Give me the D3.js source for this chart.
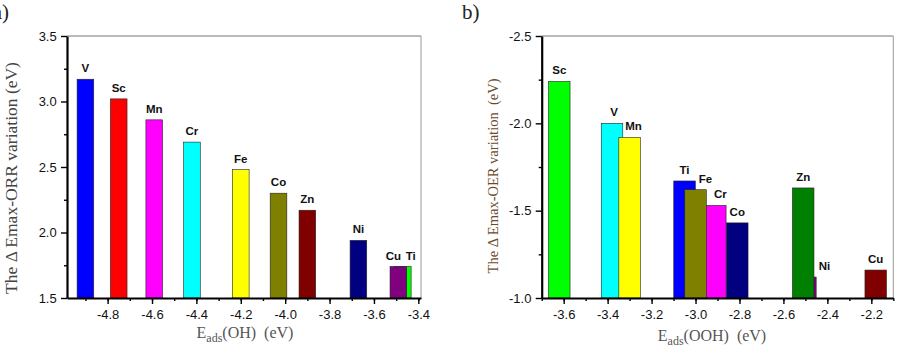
<!DOCTYPE html>
<html>
<head>
<meta charset="utf-8">
<script src="https://cdn.jsdelivr.net/npm/d3@7/dist/d3.min.js"></script>
<style>
  html, body { margin: 0; padding: 0; background: #fff; }
  svg { display: block; }
  text { white-space: pre; }
</style>
</head>
<body>
<svg id="chart" width="904" height="354"></svg>
<script>
// ---------------- DATA ----------------
// Elements in atomic order (also draw order)
const elements = ["Sc", "Ti", "V", "Cr", "Mn", "Fe", "Co", "Ni", "Cu", "Zn"];

// Panel a) : Eads(OH) vs ΔEmax-ORR variation
const eadsOH   = [-4.75, -3.47, -4.90, -4.42, -4.59, -4.20, -4.03, -3.67, -3.49, -3.90];
const orrVar   = [ 3.02,  1.74,  3.17,  2.69,  2.86,  2.48,  2.30,  1.94,  1.74,  2.17];
const orrColors = ["#ff0000", "#00ff00", "#0000ff", "#00ffff", "#ff00ff", "#ffff00", "#808000", "#000080", "#800080", "#800000"];
const orrXTicks = [-4.8, -4.6, -4.4, -4.2, -4.0, -3.8, -3.6, -3.4];
const orrYTicks = [1.5, 2.0, 2.5, 3.0, 3.5];

// Panel b) : Eads(OOH) vs ΔEmax-OER variation
const eadsOOH  = [-3.62, -3.05, -3.38, -2.91, -3.30, -3.00, -2.81, -2.50, -2.18, -2.51];
const oerVar   = [-2.24, -1.67, -2.00, -1.53, -1.92, -1.62, -1.43, -1.12, -1.16, -1.63];
const oerColors = ["#00ff00", "#0000ff", "#00ffff", "#ff00ff", "#ffff00", "#808000", "#000080", "#800080", "#800000", "#008000"];
const oerXTicks = [-3.6, -3.4, -3.2, -3.0, -2.8, -2.6, -2.4, -2.2];
const oerYTicks = [-2.5, -2.0, -1.5, -1.0];

// ---------------- DRAWING ----------------
const svg = d3.select("#chart");

function panel(cfg) {
  const g = svg.append("g");
  const x = d3.scaleLinear().domain(cfg.xDomain).range([cfg.left, cfg.right]);
  const y = d3.scaleLinear().domain(cfg.yDomain).range([cfg.bottom, cfg.top]);

  // frame (top & right thin grey)
  g.append("line").attr("x1", cfg.left).attr("x2", cfg.right).attr("y1", cfg.top).attr("y2", cfg.top)
    .attr("stroke", "#777").attr("stroke-width", 1);
  g.append("line").attr("x1", cfg.right).attr("x2", cfg.right).attr("y1", cfg.top).attr("y2", cfg.bottom)
    .attr("stroke", "#999").attr("stroke-width", 1);

  // bars
  const data = elements.map((e, i) => ({ e, xv: cfg.xs[i], yv: cfg.ys[i], c: cfg.colors[i] }));
  const hw = cfg.barW / 2;
  g.selectAll("rect.bar").data(data).enter().append("rect")
    .attr("class", "bar")
    .attr("x", d => x(d.xv - hw))
    .attr("width", d => x(d.xv + hw) - x(d.xv - hw))
    .attr("y", d => Math.min(y(d.yv), y(cfg.base)))
    .attr("height", d => Math.abs(y(cfg.base) - y(d.yv)))
    .attr("fill", d => d.c)
    .attr("stroke", "#222")
    .attr("stroke-width", 0.6);

  // bar labels
  g.selectAll("text.lbl").data(data).enter().append("text")
    .attr("class", "lbl")
    .attr("x", d => x(d.xv) + (cfg.labelDx[d.e] || 0))
    .attr("y", d => y(d.yv) - 7)
    .attr("text-anchor", "middle")
    .attr("font-family", "Liberation Sans, Arial, sans-serif")
    .attr("font-weight", "bold")
    .attr("font-size", 11.5)
    .attr("fill", "#111")
    .text(d => d.e);

  // x axis
  const minorX = d3.range(Math.ceil(cfg.xDomain[0] * 10), Math.floor(cfg.xDomain[1] * 10) + 1)
    .map(v => v / 10);
  const xAxisMinor = d3.axisBottom(x).tickValues(minorX).tickSize(3).tickFormat("");
  const xAxis = d3.axisBottom(x).tickValues(cfg.xTicks).tickSize(6).tickSizeOuter(0)
    .tickFormat(d3.format(".1f"));
  const gxm = g.append("g").attr("transform", `translate(0,${cfg.bottom})`).call(xAxisMinor);
  gxm.select(".domain").remove();
  const gx = g.append("g").attr("transform", `translate(0,${cfg.bottom})`).call(xAxis);
  gx.select(".domain").attr("stroke", "#000").attr("stroke-width", 2.2);

  // y axis
  const step = cfg.yTicks[1] - cfg.yTicks[0];
  const minorY = cfg.yTicks.slice(0, -1).map(v => v + step / 2);
  const yAxisMinor = d3.axisLeft(y).tickValues(minorY).tickSize(3).tickFormat("");
  const yAxis = d3.axisLeft(y).tickValues(cfg.yTicks).tickSize(6).tickSizeOuter(0)
    .tickFormat(d3.format(".1f"));
  const gym = g.append("g").attr("transform", `translate(${cfg.left},0)`).call(yAxisMinor);
  gym.select(".domain").remove();
  const gy = g.append("g").attr("transform", `translate(${cfg.left},0)`).call(yAxis);
  gy.select(".domain").attr("stroke", "#000").attr("stroke-width", 2.2);

  [gx, gy, gxm, gym].forEach(a => {
    a.selectAll(".tick line").attr("stroke", "#000").attr("stroke-width", 1.4);
    a.selectAll(".tick text")
      .attr("font-family", "Liberation Sans, Arial, sans-serif")
      .attr("font-size", 13).attr("fill", "#111")
      .text(function() { return d3.select(this).text().replace("\u2212", "-"); });
  });
  gx.selectAll(".tick text").attr("dy", "0.95em");
  gy.selectAll(".tick text").attr("dx", "-0.1em");

  // x title with subscript
  const xt = g.append("text")
    .attr("x", cfg.xTitleX).attr("y", cfg.xTitleY)
    .attr("text-anchor", "middle")
    .attr("font-family", "Liberation Serif, Times New Roman, serif")
    .attr("font-size", 16).attr("fill", "#555");
  xt.append("tspan").text("E");
  xt.append("tspan").attr("font-size", 12).attr("dy", 4).text("ads");
  xt.append("tspan").attr("dy", -4).text(cfg.xTitleRest);

  // y title
  g.append("text")
    .attr("transform", `translate(${cfg.yTitleX},${cfg.yTitleY}) rotate(-90)`)
    .attr("text-anchor", "middle")
    .attr("dy", "0.35em")
    .attr("font-family", "Liberation Serif, Times New Roman, serif")
    .attr("font-size", cfg.yTitleSize).attr("fill", cfg.yTitleColor)
    .text(cfg.yTitle);

  // panel tag
  g.append("text")
    .attr("x", cfg.tagX).attr("y", 19)
    .attr("text-anchor", cfg.tagAnchor)
    .attr("font-family", "Liberation Serif, Times New Roman, serif")
    .attr("font-size", 21).attr("fill", "#222")
    .text(cfg.tag);
}

panel({
  xDomain: [-4.983, -3.388], yDomain: [1.5, 3.5],
  left: 67, right: 421, top: 36, bottom: 298,
  xs: eadsOH, ys: orrVar, colors: orrColors, base: 1.5, barW: 0.075,
  xTicks: orrXTicks, yTicks: orrYTicks,
  labelDx: { Cu: -5, Ti: 8 },
  xTitleX: 245, xTitleY: 338, xTitleRest: "(OH)  (eV)",
  yTitleX: 11, yTitleY: 178, yTitleSize: 17.5, yTitleColor: "#444",
  yTitle: "The \u0394 Emax-ORR variation (eV)",
  tag: "a)", tagX: 9, tagAnchor: "end"
});

panel({
  xDomain: [-3.70, -2.10], yDomain: [-1.0, -2.5],
  left: 541.7, right: 893.3, top: 36, bottom: 298,
  xs: eadsOOH, ys: oerVar, colors: oerColors, base: -1.0, barW: 0.098,
  xTicks: oerXTicks, yTicks: oerYTicks,
  labelDx: { Mn: 4, Fe: 10, Cr: 5, Ni: 19, V: 2 },
  xTitleX: 712, xTitleY: 341, xTitleRest: "(OOH)  (eV)",
  yTitleX: 493, yTitleY: 176, yTitleSize: 14.5, yTitleColor: "#6b4a2a",
  yTitle: "The \u0394 Emax-OER variation  (eV)",
  tag: "b)", tagX: 462, tagAnchor: "start"
});
</script>
</body>
</html>
